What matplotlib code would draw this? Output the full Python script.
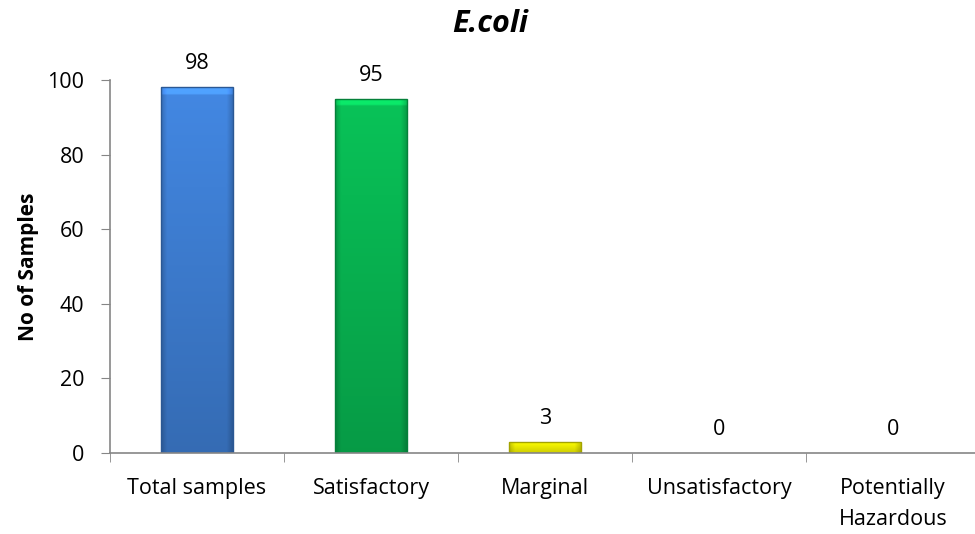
import numpy as np
import matplotlib.pyplot as plt
from matplotlib.colors import to_rgb

categories = ['Total samples', 'Satisfactory', 'Marginal', 'Unsatisfactory', 'Potentially\nHazardous']
values = [98, 95, 3, 0, 0]
colors = ['#3f80d6', '#08b853', '#f4f400', '#888888', '#888888']
edges = ['#2b5894', '#05803a', '#a3a300', '#888888', '#888888']

plt.rcParams['font.family'] = ['Open Sans', 'DejaVu Sans']

fig = plt.figure(figsize=(9.75, 5.34), dpi=100)
ax = fig.add_axes([110 / 975, 1 - 453 / 534, 870 / 975, 373 / 534])

x = np.arange(len(categories))
lw = [1.0 if v > 0 else 0 for v in values]
bars = ax.bar(x, values, width=0.41, color=colors, linewidth=0, zorder=2)

# rough imitation of the excel bevel: darker sides and bottom, light top rim
for b, c in zip(bars, colors):
    if b.get_height() <= 0:
        continue
    nx, ny = 60, 200
    u = np.linspace(0, 1, nx)
    t = np.linspace(0, 1, ny)[:, None]   # 0 = top, 1 = bottom
    side = 1 - 0.18 * np.clip(1 - np.minimum(u, 1 - u) / 0.08, 0, 1)
    vert = 1.06 - 0.22 * t
    shade = vert * side[None, :]
    shade = np.where(t < 0.02, shade * 1.2, shade)
    img = np.clip(np.array(to_rgb(c))[None, None, :] * shade[:, :, None], 0, 1)
    x0, y0 = b.get_x(), b.get_y()
    w, h = b.get_width(), b.get_height()
    im = ax.imshow(img, aspect='auto', interpolation='bilinear',
                   extent=[x0, x0 + w, y0, y0 + h], origin='upper', zorder=2.1)
    im.set_clip_path(b)

# outlines on top of the shading
ax.bar(x, values, width=0.41, fill=False, edgecolor=edges, linewidth=lw, zorder=2.2)

for xi, v in zip(x, values):
    ax.annotate(str(v), (xi, v), xytext=(0, 13), textcoords='offset points',
                ha='center', va='baseline', fontsize=15.5)

ax.set_xlim(-0.5, len(categories) - 0.5)
ax.set_ylim(0, 100)
ax.set_yticks([0, 20, 40, 60, 80, 100])
ax.set_xticks(x)
ax.set_xticklabels(categories, fontsize=15.5, linespacing=1.65)
ax.set_xticks(np.arange(len(categories)) - 0.5, minor=True)
ax.tick_params(axis='x', which='major', length=0, pad=18)
ax.tick_params(axis='x', which='minor', length=6.5, color='#868686', direction='out')
ax.tick_params(axis='y', length=6.5, color='#868686', direction='out', labelsize=15.5, pad=12)

for s in ['top', 'right']:
    ax.spines[s].set_visible(False)
for s in ['left', 'bottom']:
    ax.spines[s].set_color('#868686')
    ax.spines[s].set_linewidth(1.2)

ax.set_ylabel('No of Samples', fontsize=15, fontweight='bold', labelpad=6)
fig.text(490 / 975, 1 - 24 / 534, 'E.coli', ha='center', va='center',
         fontsize=22, fontweight='bold', fontstyle='italic')

fig.savefig('out.png', dpi=100)
